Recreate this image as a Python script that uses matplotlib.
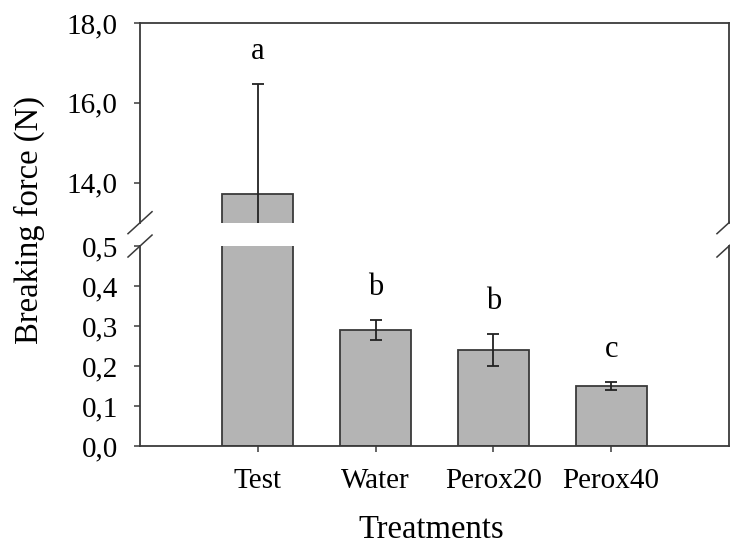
import matplotlib
matplotlib.use('Agg')
import matplotlib.pyplot as plt

# Breaking force per treatment [N], mean and error
treatments = ['Test', 'Water', 'Perox20', 'Perox40']
force = [13.72, 0.29, 0.24, 0.15]
error = [2.75, 0.026, 0.04, 0.01]
groups = ['a', 'b', 'b', 'c']

upper_ticks = [14.0, 16.0, 18.0]
lower_ticks = [0.0, 0.1, 0.2, 0.3, 0.4, 0.5]

plt.rcParams['font.family'] = ['Liberation Serif', 'DejaVu Serif']

edge = '#3a3a3a'
fig = plt.figure(figsize=(7.3, 5.47), dpi=100)
ax_top = fig.add_axes([0.1918, 0.5929, 0.8068, 0.3651])
ax_bot = fig.add_axes([0.1918, 0.1846, 0.8068, 0.3656])

x = range(1, len(treatments) + 1)
for ax in (ax_top, ax_bot):
    ax.bar(x, force, width=0.6, color='#b4b4b4', edgecolor=edge, linewidth=1.3, zorder=2)
    ax.errorbar(x, force, yerr=error, fmt='none', ecolor='#222222', elinewidth=1.3,
                capsize=4.6, capthick=1.3, zorder=3)
    ax.set_xlim(0, 5)
    for s in ax.spines.values():
        s.set_color(edge)
        s.set_linewidth(1.3)
    ax.tick_params(axis='y', direction='out', length=4, width=1.1, color=edge,
                   labelsize=21, pad=12)

# top part: only the Test bar reaches here
ax_top.set_ylim(13, 18)
ax_top.spines['bottom'].set_visible(False)
ax_top.set_xticks([])
ax_top.set_yticks(upper_ticks)
ax_top.set_yticklabels([f'{t:.1f}'.replace('.', ',') for t in upper_ticks])

ax_bot.set_ylim(0, 0.5)
ax_bot.spines['top'].set_visible(False)
ax_bot.set_yticks(lower_ticks)
ax_bot.set_yticklabels([f'{t:.1f}'.replace('.', ',') for t in lower_ticks])
ax_bot.set_xticks(list(x))
ax_bot.set_xticklabels(treatments)
ax_bot.tick_params(axis='x', direction='out', length=4, width=1.1, color=edge,
                   labelsize=21, pad=12)

# significance letters above error bars
for i, g in enumerate(groups):
    ax = ax_top if force[i] > 1 else ax_bot
    ax.annotate(g, (i + 1, force[i] + error[i]), xytext=(0, 13),
                textcoords='offset points', ha='center', va='bottom', fontsize=22)

# axis break marks
dx, dy = 0.0204, 0.055
for xs in (0, 1):
    ax_top.plot([xs - dx, xs + dx], [-dy, dy], color=edge, lw=1.1,
                transform=ax_top.transAxes, clip_on=False)
    ax_bot.plot([xs - dx, xs + dx], [1 - dy, 1 + dy], color=edge, lw=1.1,
                transform=ax_bot.transAxes, clip_on=False)

fig.text(29 / 730, 1 - 220 / 547, 'Breaking force (N)', rotation=90,
         ha='center', va='center', fontsize=23.5)
fig.text(431 / 730, 2 / 547, 'Treatments', ha='center', va='bottom', fontsize=23.5)

fig.savefig('out.png', dpi=100)
